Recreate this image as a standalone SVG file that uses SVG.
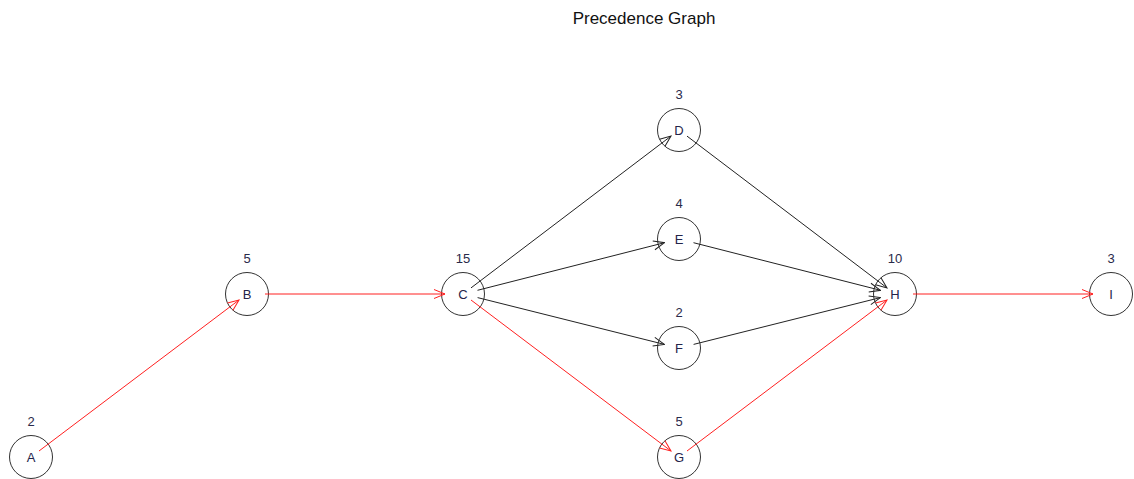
<svg xmlns="http://www.w3.org/2000/svg" width="1134" height="479" viewBox="0 0 1134 479">
<style>
.n circle{fill:#fff;stroke:#333;stroke-width:1}
.lbl{font-family:"Liberation Sans",Arial,sans-serif;font-size:13px;fill:#24244a;text-anchor:middle}
.w{font-family:"Liberation Sans",Arial,sans-serif;font-size:13px;fill:#2a2a4a;text-anchor:middle}
.e{fill:none;stroke-width:1}
.blk{stroke:#222;marker-end:url(#ak)}
.red{stroke:#ff2020;marker-end:url(#ar)}
</style>
<defs>
<marker id="ak" viewBox="-12 -6 13 12" refX="0" refY="0" markerWidth="13" markerHeight="12" markerUnits="userSpaceOnUse" orient="auto"><path d="M-11,-4.5 L0,0 L-11,4.5" fill="none" stroke="#222" stroke-width="1"/></marker>
<marker id="ar" viewBox="-12 -6 13 12" refX="0" refY="0" markerWidth="13" markerHeight="12" markerUnits="userSpaceOnUse" orient="auto"><path d="M-11,-4.5 L0,0 L-11,4.5" fill="none" stroke="#ff2020" stroke-width="1"/></marker>
</defs>
<rect width="1134" height="479" fill="#fff"/>
<text x="644" y="24" font-family="Liberation Sans,Arial,sans-serif" font-size="17" text-anchor="middle" fill="#111">Precedence Graph</text>
<g id="nodes">
<g id="A" class="n"><circle cx="31" cy="457" r="21.5"/><text class="w" x="31" y="426">2</text><text class="lbl" x="31" y="462">A</text></g>
<g id="B" class="n"><circle cx="247" cy="294" r="21.5"/><text class="w" x="247" y="263">5</text><text class="lbl" x="247" y="299">B</text></g>
<g id="C" class="n"><circle cx="463" cy="294" r="21.5"/><text class="w" x="463" y="263">15</text><text class="lbl" x="463" y="299">C</text></g>
<g id="D" class="n"><circle cx="679" cy="130" r="21.5"/><text class="w" x="679" y="99">3</text><text class="lbl" x="679" y="135">D</text></g>
<g id="E" class="n"><circle cx="679" cy="239" r="21.5"/><text class="w" x="679" y="208">4</text><text class="lbl" x="679" y="244">E</text></g>
<g id="F" class="n"><circle cx="679" cy="348" r="21.5"/><text class="w" x="679" y="317">2</text><text class="lbl" x="679" y="353">F</text></g>
<g id="G" class="n"><circle cx="679" cy="457" r="21.5"/><text class="w" x="679" y="426">5</text><text class="lbl" x="679" y="462">G</text></g>
<g id="H" class="n"><circle cx="895" cy="294" r="21.5"/><text class="w" x="895" y="263">10</text><text class="lbl" x="895" y="299">H</text></g>
<g id="I" class="n"><circle cx="1111" cy="294" r="21.5"/><text class="w" x="1111" y="263">3</text><text class="lbl" x="1111" y="299">I</text></g>
</g>
<g id="edges">
<line class="e red" x1="39" y1="451" x2="239" y2="300"/>
<line class="e red" x1="265" y1="294" x2="445" y2="294"/>
<line class="e blk" x1="471" y1="287.9" x2="671" y2="136.1"/>
<line class="e blk" x1="477.5" y1="290.3" x2="664.5" y2="242.7"/>
<line class="e blk" x1="477.6" y1="297.6" x2="664.4" y2="344.4"/>
<line class="e red" x1="471" y1="300" x2="671" y2="451"/>
<line class="e blk" x1="687" y1="136.1" x2="887" y2="287.9"/>
<line class="e blk" x1="693.5" y1="242.7" x2="880.5" y2="290.3"/>
<line class="e blk" x1="693.6" y1="344.4" x2="880.4" y2="297.6"/>
<line class="e red" x1="687" y1="451" x2="887" y2="300"/>
<line class="e red" x1="913" y1="294" x2="1093" y2="294"/>
</g>
</svg>
